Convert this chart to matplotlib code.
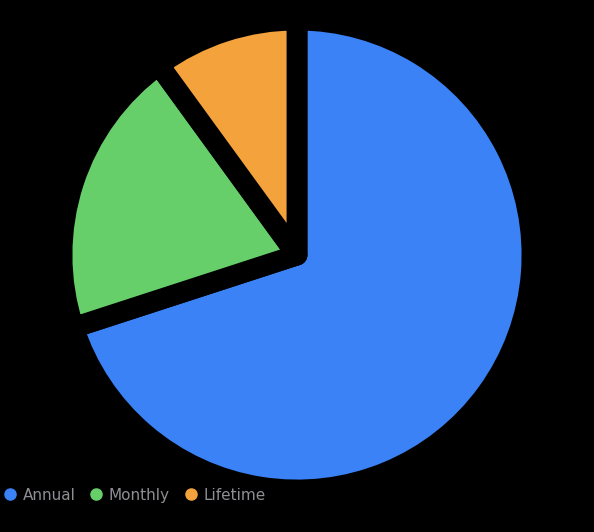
import matplotlib
matplotlib.use("Agg")
import matplotlib.pyplot as plt
from matplotlib.lines import Line2D

labels = ["Annual", "Monthly", "Lifetime"]
values = [70, 20, 10]
colors = ["#3a82f6", "#66cf6a", "#f4a33c"]

fig = plt.figure(figsize=(5.94, 5.32), dpi=100, facecolor="black")
# square axes centred on the pie (centre ~ (297, 255) px)
ax = fig.add_axes([47 / 594, 27 / 532, 500 / 594, 500 / 532])
ax.set_facecolor("black")
ax.pie(values, colors=colors, startangle=90, counterclock=False, radius=1.175,
       wedgeprops=dict(edgecolor="black", linewidth=15, joinstyle="round"))
ax.set_xlim(-1.25, 1.25)
ax.set_ylim(-1.25, 1.25)
ax.axis("off")

handles = [Line2D([], [], marker="o", linestyle="none", markersize=8,
                  markerfacecolor=c, markeredgecolor=c) for c in colors]
fig.legend(handles, labels, loc="center left", bbox_to_anchor=(-0.02, 0.069),
           ncol=3, frameon=False, fontsize=11, labelcolor="#8e8e93",
           handletextpad=0.35, columnspacing=0.85, handlelength=1.0)

fig.savefig("out.png", dpi=100, facecolor="black")
